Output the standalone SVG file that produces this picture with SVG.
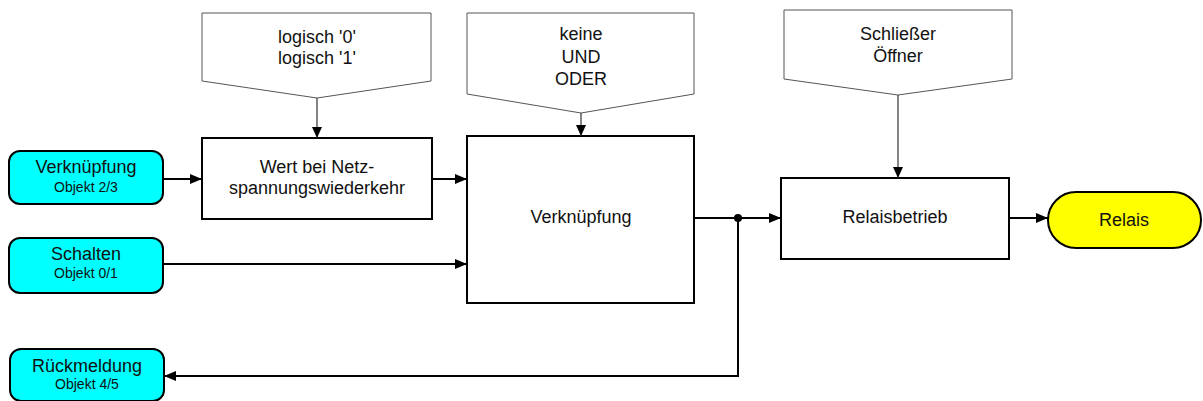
<svg xmlns="http://www.w3.org/2000/svg" width="1203" height="401" viewBox="0 0 1203 401">
<defs>
<marker id="ah" markerWidth="12" markerHeight="10" refX="12" refY="5" orient="auto" markerUnits="userSpaceOnUse"><path d="M0,0 L12,5 L0,10 Z" fill="#000"/></marker>
<marker id="ahs" markerWidth="11" markerHeight="10" refX="11" refY="5" orient="auto" markerUnits="userSpaceOnUse"><path d="M0,0 L11,5 L0,10 Z" fill="#000"/></marker>
</defs>
<style>
text{font-family:"Liberation Sans",Arial,sans-serif;fill:#111;text-anchor:middle}
.t{font-size:18px}
.s{font-size:14px}
.io{fill:#00ffff;stroke:#000;stroke-width:2}
.box{fill:#fff;stroke:#000;stroke-width:2}
.pent{fill:#fff;stroke:#555;stroke-width:1}
.c{fill:none;stroke:#000;stroke-width:2}
.cs{fill:none;stroke:#333;stroke-width:1.2}
</style>
<rect width="1203" height="401" fill="#fff"/>
<g id="in-verknuepfung"><rect class="io" x="9" y="151" width="154" height="53" rx="11"/><text class="t" x="86" y="173">Verknüpfung</text><text class="s" x="86" y="192">Objekt 2/3</text></g>
<g id="in-schalten"><rect class="io" x="9" y="238" width="154" height="55" rx="11"/><text class="t" x="86" y="260">Schalten</text><text class="s" x="86" y="278">Objekt 0/1</text></g>
<g id="out-rueckmeldung"><rect class="io" x="10" y="349" width="154" height="52" rx="11"/><text class="t" x="87" y="372">Rückmeldung</text><text class="s" x="87" y="389">Objekt 4/5</text></g>
<g id="param-logisch"><polygon class="pent" points="202,13 431,13 431,81 317,98 202,81"/><text class="t" x="317" y="43">logisch '0'</text><text class="t" x="317" y="64">logisch '1'</text></g>
<g id="wert"><rect class="box" x="202" y="138" width="230" height="81"/><text class="t" x="317" y="173">Wert bei Netz-</text><text class="t" x="317" y="194">spannungswiederkehr</text></g>
<g id="param-verkn"><polygon class="pent" points="467,13 694,13 694,94 581,113 467,94"/><text class="t" x="581" y="40">keine</text><text class="t" x="581" y="63">UND</text><text class="t" x="581" y="85">ODER</text></g>
<g id="verknuepfung"><rect class="box" x="467" y="136" width="227" height="167"/><text class="t" x="581" y="223">Verknüpfung</text></g>
<g id="param-relais"><polygon class="pent" points="784,10 1012,10 1012,79 898,95 784,79"/><text class="t" x="898" y="40">Schließer</text><text class="t" x="898" y="62">Öffner</text></g>
<g id="relaisbetrieb"><rect class="box" x="781" y="178" width="228" height="81"/><text class="t" x="895" y="223">Relaisbetrieb</text></g>
<g id="relais"><rect x="1048" y="192" width="153" height="56" rx="28" fill="#ffff00" stroke="#000" stroke-width="2"/><text class="t" x="1124" y="226">Relais</text></g>
<g id="connectors">
<line class="c" x1="163" y1="179" x2="202" y2="179" marker-end="url(#ah)"/>
<line class="c" x1="432" y1="179" x2="467" y2="179" marker-end="url(#ah)"/>
<line class="c" x1="163" y1="264" x2="467" y2="264" marker-end="url(#ah)"/>
<line class="cs" x1="317" y1="98" x2="317" y2="138" marker-end="url(#ahs)"/>
<line class="cs" x1="581" y1="113" x2="581" y2="136" marker-end="url(#ahs)"/>
<line class="cs" x1="898" y1="95" x2="898" y2="178" marker-end="url(#ahs)"/>
<line class="c" x1="694" y1="218" x2="781" y2="218" marker-end="url(#ah)"/>
<polyline class="c" points="738,218 738,376 164,376" marker-end="url(#ah)"/>
<circle cx="738" cy="218" r="4" fill="#000"/>
<line class="c" x1="1009" y1="218" x2="1048" y2="218" marker-end="url(#ah)"/>
</g>
</svg>
